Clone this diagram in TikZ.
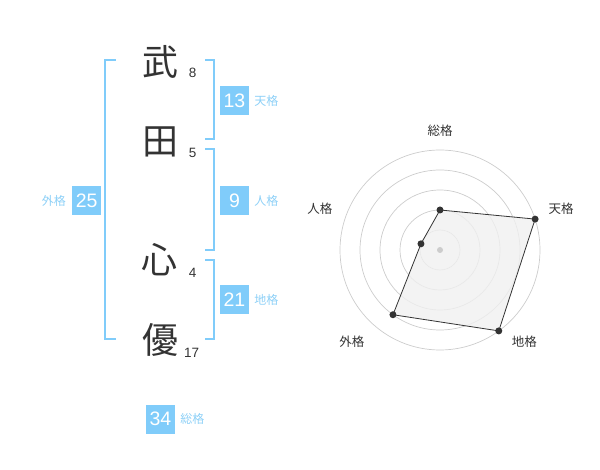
\documentclass[tikz,border=0pt]{standalone}
\usepackage{fontspec}
\setmainfont{Liberation Sans}
\newfontfamily\jpfont{Noto Sans CJK JP}
\usetikzlibrary{positioning}

\definecolor{kakublue}{HTML}{80CCFA}
\definecolor{kakutext}{HTML}{8DD0F7}
\definecolor{ink}{HTML}{333333}

\tikzset{
	kanji/.style={font=\jpfont\fontsize{36}{36}\selectfont, text=ink, inner sep=0pt},
	strokes/.style={font=\fontsize{13.5}{13.5}\selectfont, text=ink, inner sep=0pt},
	kakubox/.style={fill=kakublue, text=white, minimum size=29pt, inner sep=0pt, font=\fontsize{19.5}{19.5}\selectfont},
	kakulabel/.style={font=\jpfont\fontsize{12}{12}\selectfont, text=kakutext, inner sep=0pt},
	bracket/.style={draw=kakublue, line width=2pt},
	ring/.style={draw=black!20, line width=0.7pt},
	axislabel/.style={font=\jpfont\fontsize{12.5}{12.5}\selectfont, text=ink, inner sep=0pt},
	dot/.style={circle, fill=ink, inner sep=0pt, minimum size=7pt},
}

\begin{document}
\begin{tikzpicture}[x=1pt, y=-1pt]
	\useasboundingbox (0,0) rectangle (600,470);
	
	% name
	\node[kanji] (k1) at (160,62) {武};
	\node[kanji] (k2) at (160,142) {田};
	\node[kanji] (k3) at (159,260) {心};
	\node[kanji] (k4) at (160,340) {優};
	
	\node[strokes] (n1) at (192.7,72.7) {8};
	\node[strokes] (n2) at (192.7,152.7) {5};
	\node[strokes] (n3) at (192.7,272.7) {4};
	\node[strokes] (n4) at (191.7,352.7) {17};
	
	% brackets
	\draw[bracket] (115.7,60) -- (105,60) -- (105,339.3) -- (115.7,339.3);
	\draw[bracket] (205,60) -| (214,139.3) -- (205,139.3);
	\draw[bracket] (205,149.3) -| (214,250) -- (205,250);
	\draw[bracket] (205,260) -| (214,339.3) -- (205,339.3);
	
	% kaku
	\node[kakubox] (ten) at (234.5,100.5) {13};
	\node[kakulabel, right=5pt of ten] {天格};
	\node[kakubox] (jin) at (234.5,200.5) {9};
	\node[kakulabel, right=5pt of jin] {人格};
	\node[kakubox] (chi) at (234.5,300) {21};
	\node[kakulabel, right=5pt of chi] {地格};
	\node[kakubox] (gai) at (86.7,200.5) {25};
	\node[kakulabel, left=6pt of gai] {外格};
	\node[kakubox] (sou) at (160.5,419) {34};
	\node[kakulabel, right=5pt of sou] {総格};
	
	% radar
	\begin{scope}[shift={(440,250)}, yscale=-1]
		\foreach \r in {20,40,60,80,100}
			\draw[ring] (0,0) circle (\r pt);
		
		\coordinate (p-sou) at (90:40);
		\coordinate (p-ten) at (18:100);
		\coordinate (p-chi) at (-54:100);
		\coordinate (p-gai) at (-126:80);
		\coordinate (p-jin) at (162:20);
		
		\filldraw[fill=black!6, fill opacity=0.8, draw=ink, line width=0.8pt]
			(p-sou) -- (p-ten) -- (p-chi) -- (p-gai) -- (p-jin) -- cycle;
		\fill[black!20] (0,0) circle (3pt);
		\foreach \p in {sou,ten,chi,gai,jin}
			\node[dot] at (p-\p) {};
		
		\node[axislabel] (l-sou) at (90:119) {総格};
		\node[axislabel] (l-ten) at (19:128) {天格};
		\node[axislabel] (l-chi) at (-47.5:125) {地格};
		\node[axislabel] (l-gai) at (-134:127) {外格};
		\node[axislabel] (l-jin) at (161:127) {人格};
	\end{scope}
\end{tikzpicture}
\end{document}
